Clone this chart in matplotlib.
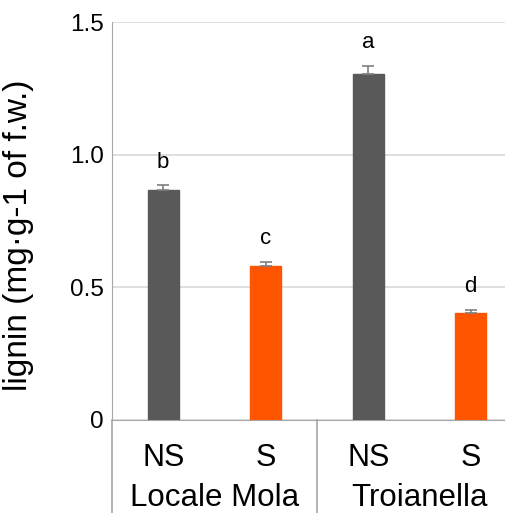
import matplotlib
matplotlib.use("Agg")
import matplotlib.pyplot as plt
import numpy as np

plt.rcParams['font.family'] = ['Liberation Sans', 'DejaVu Sans']

treatments = ['NS', 'S', 'NS', 'S']
groups = ['Locale Mola', 'Troianella']
lignin = [0.867, 0.582, 1.305, 0.405]
err = [0.018, 0.014, 0.030, 0.010]
letters = ['b', 'c', 'a', 'd']
colors = ['#595959', '#ff5500', '#595959', '#ff5500']

fig = plt.figure(figsize=(5.06, 5.13), dpi=100)
ax = fig.add_axes([112 / 506, 93 / 513, 410 / 506, 398 / 513])

x = np.arange(len(lignin))
ax.bar(x, lignin, width=0.3, color=colors, edgecolor=colors, zorder=3)
ax.errorbar(x, lignin, yerr=[np.zeros(len(err)), err], fmt='none', ecolor='#7f7f7f',
            elinewidth=1.2, capsize=4, capthick=1.2, zorder=4)
for xi, v, e, l in zip(x, lignin, err, letters):
    ax.annotate(l, (xi, v + e), xytext=(0, 9), textcoords='offset points',
                ha='center', va='bottom', fontsize=16)

ax.set_xlim(-0.5, 3.5)
ax.set_ylim(0, 1.5)
ax.set_yticks([0, 0.5, 1.0, 1.5])
ax.set_yticklabels(['0', '0.5', '1.0', '1.5'], fontsize=17.5)
ax.set_xticks([])
ax.tick_params(axis='y', length=0, pad=6)
ax.yaxis.grid(True, color='#d9d9d9', linewidth=1.2, zorder=0)
for s in ['top', 'right']:
    ax.spines[s].set_visible(False)
ax.spines['left'].set_color('#a6a6a6')
ax.spines['bottom'].set_color('#a6a6a6')
ax.set_ylabel('lignin (mg·g-1 of f.w.)', fontsize=24, labelpad=9)
ax.yaxis.set_label_coords(-0.19, 0.465)

# category axis below the plot
tr = ax.get_xaxis_transform()
for xl in [-0.5, 1.5]:
    ax.plot([xl, xl], [0, -0.24], color='#a6a6a6', lw=1.2, transform=tr, clip_on=False)
for xi, t in zip(x, treatments):
    ax.text(xi, -0.116, t, transform=tr, ha='center', va='baseline', fontsize=22)
for i, g in enumerate(groups):
    ax.text(2 * i + 0.5, -0.215, g, transform=tr, ha='center', va='baseline', fontsize=22.5)

plt.savefig('out.png', dpi=100)
